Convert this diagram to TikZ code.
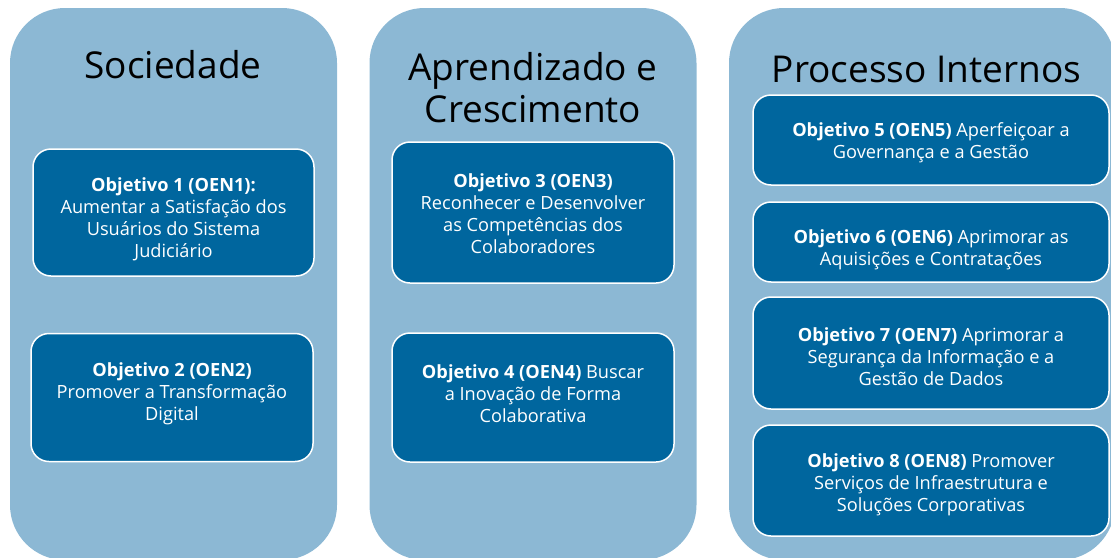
\documentclass[tikz,border=0pt]{standalone}
\usepackage{fontspec}
\setmainfont{Open Sans}
\usepackage{tikz}

\definecolor{colfill}{RGB}{140,184,212}
\definecolor{goalfill}{RGB}{0,102,158}

\tikzset{
  coluna/.style={fill=colfill, rounded corners=55pt, inner sep=0pt},
  titulo/.style={font=\fontsize{37}{42}\selectfont, align=center, text=black},
  objetivo/.style={draw=white, line width=1.5pt, fill=goalfill, rounded corners=18pt, inner sep=0pt},
  texto/.style={text=white, align=center, inner sep=0pt, font=\fontsize{18.2}{22}\selectfont},
}

\begin{document}
\begin{tikzpicture}[x=1pt,y=-1pt]
    \useasboundingbox (0,0) rectangle (1111,557);
    % colunas
    \node[coluna, minimum width=327pt, minimum height=552pt] (soc) at (173.5,284) {};
    \node[coluna, minimum width=327pt, minimum height=552pt] (apr) at (533,284) {};
    \node[coluna, minimum width=386pt, minimum height=552pt] (pro) at (922,284) {};
    \node[titulo] (tsoc) at (173,65) {Sociedade};
    \node[titulo] (tapr) at (533,88) {Aprendizado e\\Crescimento};
    \node[titulo] (tpro) at (926.5,69) {Processo Internos};
    % objetivos
    \node[objetivo, minimum width=281pt, minimum height=127pt] (o1) at (173.5,212.5) {};
    \node[objetivo, minimum width=282pt, minimum height=128pt] (o2) at (172,397.5) {};
    \node[objetivo, minimum width=282pt, minimum height=141pt] (o3) at (533,212.5) {};
    \node[objetivo, minimum width=282pt, minimum height=129pt] (o4) at (533,397.5) {};
    \node[objetivo, minimum width=356pt, minimum height=90pt] (o5) at (931,140) {};
    \node[objetivo, minimum width=356pt, minimum height=80pt] (o6) at (931,242) {};
    \node[objetivo, minimum width=356pt, minimum height=112pt] (o7) at (931,353) {};
    \node[objetivo, minimum width=356pt, minimum height=111pt] (o8) at (931,480.5) {};
    \node[texto] (t1) at (173.5,219.5)
      {\textbf{Objetivo 1 (OEN1):}\\Aumentar a Satisfação dos\\Usuários do Sistema\\Judiciário};
    \node[texto] (t2) at (172,393.5)
      {\textbf{Objetivo 2 (OEN2)}\\Promover a Transformação\\Digital};
    \node[texto] (t3) at (533,213.5)
      {\textbf{Objetivo 3 (OEN3)}\\Reconhecer e Desenvolver\\as Competências dos\\Colaboradores};
    \node[texto] (t4) at (533,393.5)
      {\textbf{Objetivo 4 (OEN4)} Buscar\\a Inovação de Forma\\Colaborativa};
    \node[texto] (t5) at (931,142.5)
      {\textbf{Objetivo 5 (OEN5)} Aperfeiçoar a\\Governança e a Gestão};
    \node[texto] (t6) at (931,249.5)
      {\textbf{Objetivo 6 (OEN6)} Aprimorar as\\Aquisições e Contratações};
    \node[texto] (t7) at (931,356.5)
      {\textbf{Objetivo 7 (OEN7)} Aprimorar a\\Segurança da Informação e a\\Gestão de Dados};
    \node[texto] (t8) at (931,484.5)
      {\textbf{Objetivo 8 (OEN8)} Promover\\Serviços de Infraestrutura e\\Soluções Corporativas};
\end{tikzpicture}
\end{document}
